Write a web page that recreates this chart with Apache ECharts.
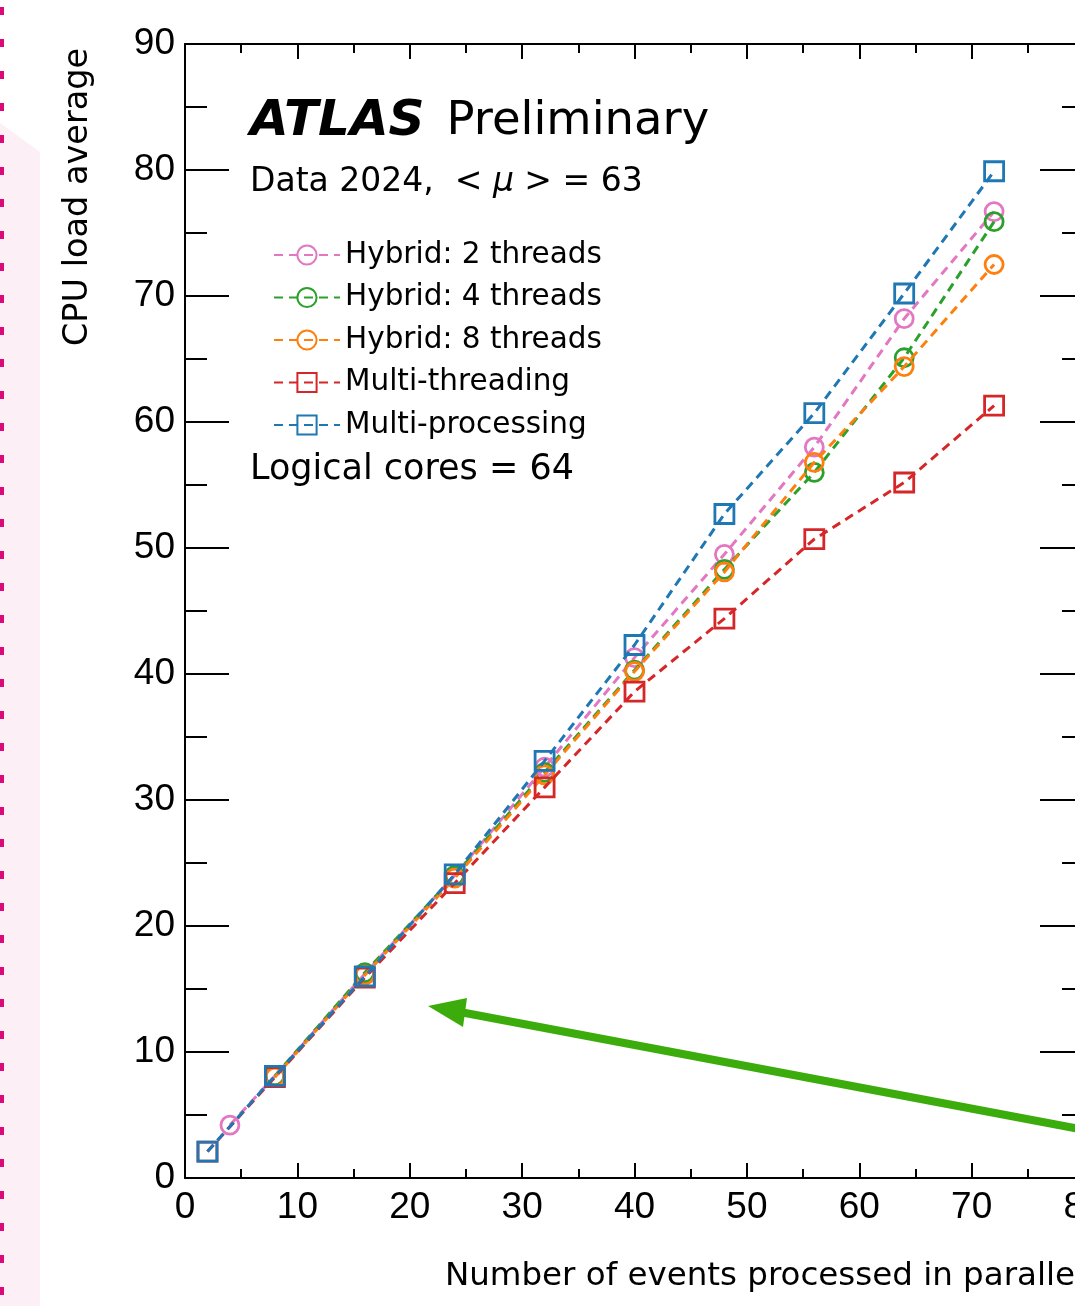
<html>
<head>
    <meta charset="utf-8">
    <script src="https://cdn.jsdelivr.net/npm/echarts@6/dist/echarts.min.js"></script>
    <title>CPU load average</title>
    <style>
        html, body { margin: 0; padding: 0; background: #fff; }
    </style>
</head>
<body>
    <div id="main" style="width: 1075px; height: 1306px;"></div>
    <script>
        // values
        const eventsH2 = [4, 8, 16, 24, 32, 40, 48, 56, 64, 72];
        const loadH2 = [4.2, 8.1, 16.2, 24.0, 32.6, 41.3, 49.5, 58.0, 68.2, 76.7];
        const eventsH4 = [8, 16, 24, 32, 40, 48, 56, 64, 72];
        const loadH4 = [8.1, 16.3, 24.0, 32.2, 40.3, 48.3, 56.0, 65.1, 75.9];
        const eventsH8 = [8, 16, 24, 32, 40, 48, 56, 64, 72];
        const loadH8 = [8.0, 16.1, 23.8, 32.0, 40.2, 48.1, 56.8, 64.4, 72.5];
        const eventsMT = [2, 8, 16, 24, 32, 40, 48, 56, 64, 72];
        const loadMT = [2.1, 8.0, 15.9, 23.4, 31.0, 38.6, 44.4, 50.7, 55.2, 61.3];
        const eventsMP = [2, 8, 16, 24, 32, 40, 48, 56, 64, 72];
        const loadMP = [2.1, 8.1, 16.0, 24.1, 33.1, 42.3, 52.7, 60.7, 70.2, 79.9];

        const seriesNames = ['Hybrid: 2 threads', 'Hybrid: 4 threads', 'Hybrid: 8 threads', 'Multi-threading', 'Multi-processing'];
        const seriesColors = ['#e377c2', '#2ca02c', '#ff7f0e', '#d62728', '#1f77b4'];
        const seriesSymbols = ['circle', 'circle', 'circle', 'rect', 'rect'];
        const seriesX = [eventsH2, eventsH4, eventsH8, eventsMT, eventsMP];
        const seriesY = [loadH2, loadH4, loadH8, loadMT, loadMP];

        const txtFont = '"DejaVu Sans", sans-serif';
        const tickFont = '"Liberation Sans", Arial, sans-serif';

        const chart = echarts.init(document.getElementById('main'));

        const series = seriesNames.map((name, i) => ({
            name: name,
            type: 'line',
            data: seriesX[i].map((x, j) => [x, seriesY[i][j]]),
            symbol: seriesSymbols[i],
            symbolSize: seriesSymbols[i] === 'rect' ? 19 : 18,
            z: 3 + i,
            lineStyle: { color: seriesColors[i], width: 3, type: [9, 6] },
            itemStyle: { color: 'rgba(0,0,0,0)', borderColor: seriesColors[i], borderWidth: 2.8 },
            emphasis: { disabled: true }
        }));

        const frameLine = { show: true, onZero: false, lineStyle: { color: '#000', width: 2 } };

        chart.setOption({
            backgroundColor: '#fff',
            animation: false,
            grid: { left: 185, top: 44, width: 899, height: 1134, containLabel: false, outerBoundsMode: 'none' },
            legend: {
                orient: 'vertical',
                left: 273,
                top: 240,
                padding: 0,
                itemWidth: 66,
                itemHeight: 24,
                itemGap: 12.5,
                data: seriesNames,
                textStyle: { fontFamily: txtFont, fontSize: 29.5, color: '#000', lineHeight: 30 }
            },
            xAxis: [{
                type: 'value',
                min: 0,
                max: 80,
                interval: 10,
                axisLine: frameLine,
                axisTick: { show: true, inside: true, length: 15, lineStyle: { color: '#000', width: 2 } },
                minorTick: { show: true, splitNumber: 2, length: 9, lineStyle: { color: '#000', width: 2 } },
                splitLine: { show: false },
                axisLabel: { show: true, margin: 11, fontFamily: tickFont, fontSize: 37, color: '#000', showMinLabel: true, showMaxLabel: true }
            }, {
                type: 'value',
                position: 'top',
                min: 0,
                max: 80,
                interval: 10,
                axisLine: frameLine,
                axisTick: { show: true, inside: true, length: 15, lineStyle: { color: '#000', width: 2 } },
                minorTick: { show: true, splitNumber: 2, length: 9, lineStyle: { color: '#000', width: 2 } },
                splitLine: { show: false },
                axisLabel: { show: false }
            }],
            yAxis: [{
                type: 'value',
                min: 0,
                max: 90,
                interval: 10,
                axisLine: frameLine,
                axisTick: { show: true, inside: true, length: 44, lineStyle: { color: '#000', width: 2 } },
                minorTick: { show: true, splitNumber: 2, length: 22, lineStyle: { color: '#000', width: 2 } },
                splitLine: { show: false },
                axisLabel: { show: true, margin: 10, fontFamily: tickFont, fontSize: 37, color: '#000', showMinLabel: true, showMaxLabel: true }
            }, {
                type: 'value',
                position: 'right',
                min: 0,
                max: 90,
                interval: 10,
                axisLine: frameLine,
                axisTick: { show: true, inside: true, length: 44, lineStyle: { color: '#000', width: 2 } },
                minorTick: { show: true, splitNumber: 2, length: 22, lineStyle: { color: '#000', width: 2 } },
                splitLine: { show: false },
                axisLabel: { show: false }
            }],
            series: series,
            graphic: [
                // slide background strip on the left
                { type: 'polygon', z: -10, silent: true,
                  shape: { points: [[0, 123], [40, 152], [40, 1306], [0, 1306]] },
                  style: { fill: '#fdeff6' } },
                { type: 'line', z: -9, silent: true,
                  shape: { x1: 2, y1: 7, x2: 2, y2: 1306 },
                  style: { stroke: '#dc0a78', lineWidth: 4, lineDash: [8, 24] } },
                // axis titles
                { type: 'text', x: 78, y: 197, rotation: Math.PI / 2, silent: true,
                  style: { text: 'CPU load average', fontFamily: txtFont, fontSize: 33.5, fill: '#000', align: 'center', verticalAlign: 'middle' } },
                { type: 'text', x: 1084, y: 1277, silent: true,
                  style: { text: 'Number of events processed in parallel', fontFamily: txtFont, fontSize: 32.5, fill: '#000', align: 'right', verticalAlign: 'middle' } },
                // labels inside the plot
                { type: 'text', x: 250, y: 122, silent: true,
                  style: {
                      text: '{b|ATLAS}{r|Preliminary}', verticalAlign: 'middle',
                      rich: {
                          b: { fontFamily: txtFont, fontSize: 50, fontWeight: 'bold', fontStyle: 'italic', fill: '#000', padding: [0, 22, 0, 0] },
                          r: { fontFamily: txtFont, fontSize: 46.5, fill: '#000' }
                      }
                  } },
                { type: 'text', x: 250, y: 182, silent: true,
                  style: {
                      text: '{n|Data 2024,  < }{i|μ}{n| > = 63}', verticalAlign: 'middle',
                      rich: {
                          n: { fontFamily: txtFont, fontSize: 33, fill: '#000' },
                          i: { fontFamily: txtFont, fontSize: 33, fontStyle: 'italic', fill: '#000' }
                      }
                  } },
                { type: 'text', x: 250, y: 470, silent: true,
                  style: { text: 'Logical cores = 64', fontFamily: txtFont, fontSize: 35, fill: '#000', verticalAlign: 'middle' } },
                // green arrow
                { type: 'line', z: 20, silent: true,
                  shape: { x1: 1090, y1: 1131, x2: 460, y2: 1012 },
                  style: { stroke: '#3cac0c', lineWidth: 8 } },
                { type: 'polygon', z: 20, silent: true,
                  shape: { points: [[428, 1006], [467, 998], [463, 1027]] },
                  style: { fill: '#3cac0c' } }
            ]
        });
    </script>
</body>
</html>
